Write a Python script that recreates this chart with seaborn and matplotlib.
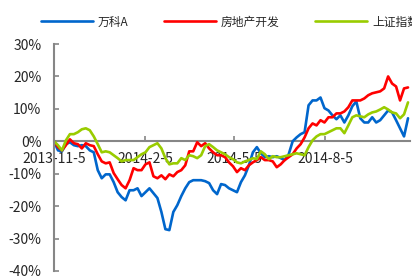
import pandas as pd
import numpy as np
import matplotlib
matplotlib.use('Agg')
import matplotlib.pyplot as plt
import seaborn as sns

sns.set_style('white')
plt.rcParams['font.family'] = ['Noto Sans CJK SC', 'DejaVu Sans']
plt.rcParams['axes.unicode_minus'] = False

# samples every 4 days, cumulative return since 2013-11-05 (%)
dates = pd.date_range('2013-11-05', periods=90, freq='4D')

vanke = [0.0, -2.8, -3.1, -0.9, -0.3, -1.2, -1.5, -1.2, -1.5, -2.8,
         -3.4, -8.9, -11.4, -10.2, -10.2, -12.6, -15.7, -17.2, -18.2, -15.1,
         -15.1, -14.5, -16.9, -15.7, -14.5, -16.0, -17.5, -21.8, -27.1, -27.4,
         -21.8, -19.7, -16.9, -14.5, -12.6, -12.0, -12.0, -12.0, -12.3, -12.9,
         -15.1, -16.3, -13.2, -13.5, -14.5, -15.1, -15.7, -12.6, -10.5, -7.4,
         -3.4, -1.8, -3.7, -4.9, -4.6, -4.9, -4.6, -5.2, -5.8, -4.0,
         0.0, 1.2, 2.2, 2.8, 11.1, 12.6, 12.6, 13.5, 10.2, 9.5,
         8.0, 6.8, 8.0, 5.8, 8.0, 10.8, 12.3, 7.1, 5.8, 5.8,
         7.4, 5.8, 6.5, 8.0, 9.5, 8.9, 6.5, 4.0, 1.5, 7.1]

realty = [0.0, -1.8, -2.8, -1.2, 0.6, -0.6, -0.9, -2.2, -0.6, -1.2,
          -1.5, -4.0, -6.2, -6.8, -6.5, -9.8, -11.7, -13.5, -14.5, -12.0,
          -8.3, -8.9, -8.9, -7.1, -6.5, -10.8, -11.4, -10.5, -11.7, -10.2,
          -10.8, -9.5, -8.9, -7.4, -3.1, -3.1, -0.3, -1.5, -0.6, -2.2,
          -3.4, -4.3, -4.3, -4.9, -6.5, -7.7, -9.5, -8.3, -8.9, -7.4,
          -6.5, -5.8, -4.9, -5.8, -5.8, -6.2, -8.0, -7.1, -5.8, -4.9,
          -4.0, -2.2, -0.9, 1.2, 4.0, 5.5, 4.9, 6.5, 5.8, 7.4,
          7.4, 8.6, 8.6, 9.2, 10.5, 12.6, 12.6, 12.6, 13.2, 14.2,
          14.8, 15.1, 15.4, 16.3, 20.0, 17.8, 16.9, 12.6, 16.3, 16.6]

sse = [0.0, -1.2, -2.8, 0.3, 2.2, 2.2, 2.8, 3.7, 4.0, 3.4,
       1.5, -0.9, -3.4, -3.1, -3.4, -4.3, -5.2, -6.2, -5.8, -5.8,
       -5.8, -4.9, -4.0, -3.4, -1.8, -1.2, -0.6, -2.2, -5.2, -7.1,
       -6.8, -6.8, -5.2, -5.8, -4.3, -4.6, -5.2, -4.3, -1.5, -0.9,
       -1.8, -2.8, -3.4, -4.0, -4.9, -5.5, -6.5, -6.8, -6.2, -5.8,
       -5.2, -5.5, -3.1, -4.0, -5.5, -4.6, -4.9, -4.9, -4.6, -4.3,
       -4.0, -3.7, -4.0, -4.3, -1.8, 0.3, 1.5, 2.2, 2.2, 2.8,
       3.4, 4.0, 4.0, 2.5, 4.9, 7.4, 8.0, 7.7, 7.4, 8.3,
       8.9, 9.2, 9.8, 10.5, 9.8, 8.9, 8.6, 7.1, 8.3, 12.0]

series_names = ['万科A', '房地产开发', '上证指数']
series_colors = ['#0066CC', '#FF0000', '#99CC00']

df = pd.DataFrame({'date': dates, '万科A': vanke, '房地产开发': realty, '上证指数': sse})
long_df = df.melt(id_vars='date', var_name='series', value_name='ret')

fig = plt.figure(figsize=(4.12, 2.78), dpi=100)
ax = fig.add_axes([54 / 412, 1 - 271 / 278, 356 / 412, 227 / 278])

sns.lineplot(data=long_df, x='date', y='ret', hue='series', hue_order=series_names,
             palette=dict(zip(series_names, series_colors)), linewidth=1.9, ax=ax)

start = pd.Timestamp('2013-11-05')
ax.set_xlim(start, start + pd.Timedelta(days=358))
ax.set_ylim(-40, 30)
ax.set_yticks(range(-40, 31, 10))
ax.set_yticklabels([f'{v}%' for v in range(-40, 31, 10)])

tick_dates = pd.to_datetime(['2013-11-05', '2014-02-05', '2014-05-05', '2014-08-05'])
ax.set_xticks(tick_dates)
ax.set_xticklabels([f'{d.year}-{d.month}-{d.day}' for d in tick_dates])

ax.set_xlabel('')
ax.set_ylabel('')
for s in ['top', 'right']:
    ax.spines[s].set_visible(False)
ax.spines['left'].set_color('#868686')
ax.spines['left'].set_linewidth(1.5)
ax.spines['bottom'].set_color('#868686')
ax.spines['bottom'].set_linewidth(1.5)
ax.spines['bottom'].set_position(('data', 0))
ax.spines['bottom'].set_zorder(1)

ax.tick_params(axis='y', direction='in', length=3.5, width=1.2, color='#868686',
               labelsize=10, pad=9, left=True)
ax.tick_params(axis='x', direction='in', length=3.5, width=1.2, color='#868686',
               labelsize=10, pad=8, bottom=True)

# legend across the top, last entry runs off the right edge like the original
handles, labels = ax.get_legend_handles_labels()
ax.get_legend().remove()
fig.legend(handles, labels, loc='center left', bbox_to_anchor=(41 / 412, 1 - 22 / 278),
           ncol=3, frameon=False, fontsize=8.5, handlelength=4.4, handletextpad=0.42,
           columnspacing=3.0, borderpad=0, borderaxespad=0)

fig.savefig('out.png', dpi=100)
